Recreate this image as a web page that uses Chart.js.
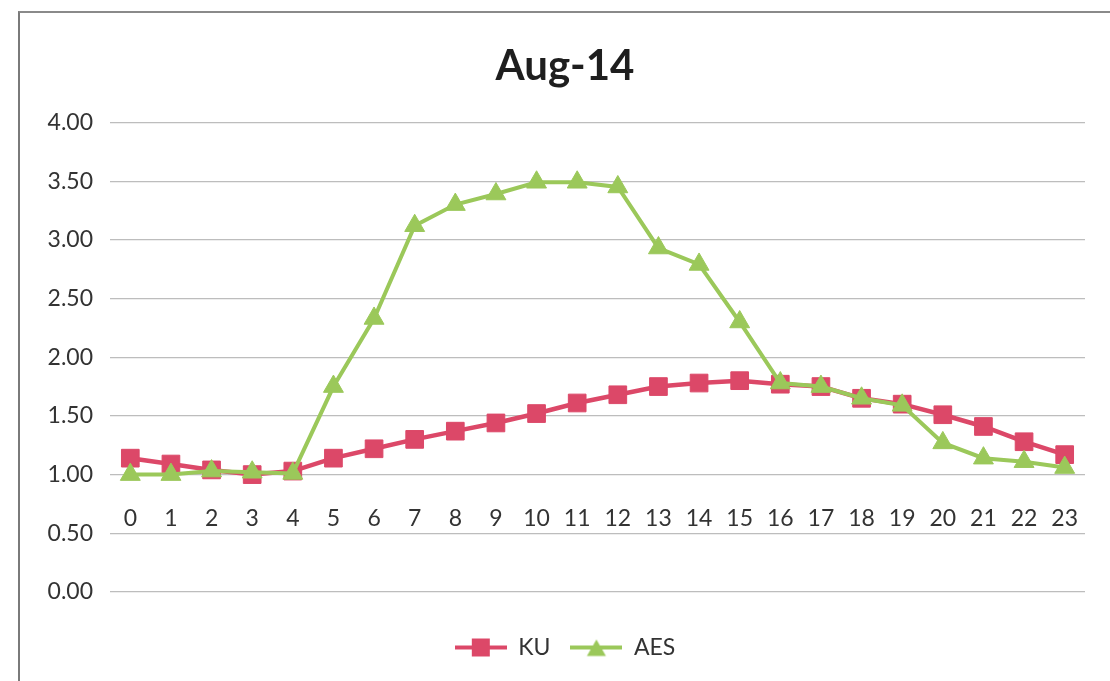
<!DOCTYPE html>
<html>
<head>
<meta charset="utf-8">
<title>Aug-14</title>
<script src="https://cdn.jsdelivr.net/npm/chart.js@4/dist/chart.umd.min.js"></script>
<style>
  html, body { margin: 0; padding: 0; background: #ffffff; width: 1110px; height: 681px; overflow: hidden; }
  #frame {
    position: absolute; left: 18px; top: 11px;
    width: 1092px; height: 670px;
    border-left: 2px solid #7a7a7a; border-top: 2px solid #8a8a8a;
  }
  #wrap { position: absolute; left: 0; top: 0; width: 1090px; height: 668px; }
</style>
</head>
<body>
<div id="frame"><div id="wrap"><canvas id="chart"></canvas></div></div>
<script>
// Hourly categories
const hours = ['0','1','2','3','4','5','6','7','8','9','10','11','12','13','14','15','16','17','18','19','20','21','22','23'];

// Hourly values per series
const kuValues  = [1.14, 1.09, 1.04, 1.00, 1.03, 1.14, 1.22, 1.30, 1.37, 1.44, 1.52, 1.61,
                   1.68, 1.75, 1.78, 1.80, 1.77, 1.75, 1.65, 1.60, 1.51, 1.41, 1.28, 1.17];
const aesValues = [1.00, 1.00, 1.03, 1.02, 1.01, 1.75, 2.33, 3.12, 3.30, 3.39, 3.49, 3.49,
                   3.45, 2.93, 2.79, 2.30, 1.78, 1.75, 1.65, 1.59, 1.27, 1.14, 1.11, 1.06];

// Value axis ticks
const yTicks = [0, 0.5, 1, 1.5, 2, 2.5, 3, 3.5, 4];

const KU_COLOR = '#dc4868';
const AES_COLOR = '#9bc85a';
const FONT = 'Lato, "Open Sans", sans-serif';

// Legend swatch: a short line with the series marker in the middle
function legendSwatch(color, marker) {
  const c = document.createElement('canvas');
  c.width = 52; c.height = 22;
  const g = c.getContext('2d');
  g.strokeStyle = color; g.lineWidth = 4; g.lineCap = 'butt';
  g.beginPath(); g.moveTo(0, 11); g.lineTo(52, 11); g.stroke();
  g.fillStyle = color;
  if (marker === 'rect') {
    g.fillRect(17, 2, 18, 18);
  } else {
    const r = 11;
    g.beginPath();
    g.moveTo(26, 11 - r + 3);
    g.lineTo(26 + r * Math.sqrt(3) / 2, 11 + r / 2 + 3);
    g.lineTo(26 - r * Math.sqrt(3) / 2, 11 + r / 2 + 3);
    g.closePath(); g.fill();
  }
  return c;
}
const kuSwatch = legendSwatch(KU_COLOR, 'rect');
const aesSwatch = legendSwatch(AES_COLOR, 'triangle');

new Chart(document.getElementById('chart'), {
  type: 'line',
  data: {
    labels: hours,
    datasets: [
      {
        label: 'KU', data: kuValues, order: 2,
        borderColor: KU_COLOR, backgroundColor: KU_COLOR, borderWidth: 4.5,
        pointStyle: 'rect', pointRadius: 12.5, pointBorderWidth: 1,
        pointBackgroundColor: KU_COLOR, pointBorderColor: KU_COLOR,
        tension: 0, fill: false
      },
      {
        label: 'AES', data: aesValues, order: 1,
        borderColor: AES_COLOR, backgroundColor: AES_COLOR, borderWidth: 4,
        pointStyle: 'triangle', pointRadius: 11.5, pointBorderWidth: 1,
        pointBackgroundColor: AES_COLOR, pointBorderColor: AES_COLOR,
        tension: 0, fill: false
      }
    ]
  },
  options: {
    responsive: true,
    maintainAspectRatio: false,
    animation: false,
    layout: { padding: { top: 0, left: 25, right: 25, bottom: 12 } },
    scales: {
      x: {
        type: 'category',
        position: { y: 1 },
        offset: true,
        grid: { display: false, drawTicks: false },
        border: { display: false },
        ticks: {
          color: '#333333', font: { family: FONT, size: 23 },
          padding: 30, maxRotation: 0, autoSkip: false
        },
        afterFit: (s) => { s.height = 0; }
      },
      // empty band between the plot and the legend
      spacer: {
        type: 'category', position: 'bottom', axis: 'x',
        grid: { display: false, drawTicks: false },
        border: { display: false },
        ticks: { display: false },
        afterFit: (s) => { s.height = 24; }
      },
      y: {
        min: 0, max: 4,
        afterBuildTicks: (s) => { s.ticks = yTicks.map(v => ({ value: v })); },
        grid: { color: '#bdbdbd', lineWidth: 1.2, drawTicks: false },
        border: { display: false },
        ticks: {
          color: '#333333', font: { family: FONT, size: 23 }, padding: 17,
          callback: (v) => Number(v).toFixed(2)
        },
        afterFit: (s) => { s.width = 65; }
      }
    },
    plugins: {
      title: {
        display: true, text: 'Aug-14', color: '#1e1e1e',
        font: { family: FONT, size: 42, weight: 'bold' },
        padding: { top: 28, bottom: 31 }
      },
      legend: {
        position: 'bottom',
        labels: {
          color: '#333333', font: { family: FONT, size: 23 }, padding: 20,
          usePointStyle: true, pointStyleWidth: 52,
          generateLabels: () => [
            { text: 'KU', pointStyle: kuSwatch, fillStyle: KU_COLOR, strokeStyle: KU_COLOR, lineWidth: 0, fontColor: '#333333', datasetIndex: 0 },
            { text: 'AES', pointStyle: aesSwatch, fillStyle: AES_COLOR, strokeStyle: AES_COLOR, lineWidth: 0, fontColor: '#333333', datasetIndex: 1 }
          ]
        }
      },
      tooltip: { enabled: false }
    }
  }
});
</script>
</body>
</html>
